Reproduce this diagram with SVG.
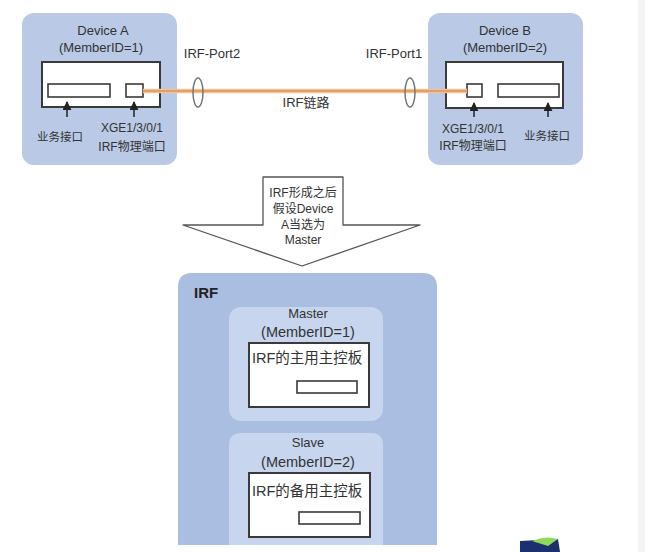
<svg xmlns="http://www.w3.org/2000/svg" width="645" height="552" viewBox="0 0 645 552">
<defs>
<marker id="ah" viewBox="0 0 10 10" refX="9" refY="5" markerWidth="6" markerHeight="6" orient="auto">
<path d="M0,0 L10,5 L0,10 z" fill="#222"/>
</marker>
<style>
text{font-family:"Liberation Sans","Noto Sans CJK SC",sans-serif;fill:#333;}
.dev{fill:#b9c9e6;}
.mem{fill:#c7d5ee;}
.inner{fill:#fff;stroke:#3a3a3a;stroke-width:2;}
.port{fill:#fff;stroke:#3a3a3a;stroke-width:1.6;}
.t13{font-size:13px;text-anchor:middle;}
.t12{font-size:12px;text-anchor:middle;}
.t11{font-size:11.5px;text-anchor:middle;}
.t14{font-size:14.5px;text-anchor:middle;}
.ring{fill:none;stroke:#777;stroke-width:1.5;}
.pin{stroke:#222;stroke-width:1.5;fill:none;}
</style>
</defs>
<rect x="0" y="0" width="645" height="552" fill="#fff"/>
<rect x="638" y="0" width="7" height="552" fill="#f4f4f4"/>

<g id="deviceA">
<rect class="dev" x="22" y="13" width="155" height="152" rx="12"/>
<text class="t13" x="103" y="35">Device A</text>
<text class="t13" x="101" y="52">(MemberID=1)</text>
<rect class="inner" x="42" y="62" width="118" height="45"/>
<rect class="port" x="48" y="84" width="62" height="13"/>
<rect class="port" x="126" y="84" width="17" height="13"/>
<text class="t11" x="60" y="141">业务接口</text>
<text class="t12" x="132" y="132">XGE1/3/0/1</text>
<text class="t12" x="132" y="151">IRF物理端口</text>
</g>

<g id="deviceB">
<rect class="dev" x="428" y="13" width="155" height="152" rx="12"/>
<text class="t13" x="505" y="35">Device B</text>
<text class="t13" x="505" y="52">(MemberID=2)</text>
<rect class="inner" x="446" y="62" width="117" height="46"/>
<rect class="port" x="467" y="84" width="15" height="13"/>
<rect class="port" x="498" y="84" width="61" height="13"/>
<text class="t12" x="473" y="133">XGE1/3/0/1</text>
<text class="t12" x="473" y="150">IRF物理端口</text>
<text class="t11" x="547" y="140">业务接口</text>
</g>

<g id="connectors">
<line x1="143" y1="91" x2="467" y2="91" stroke="#f5c193" stroke-width="4.5"/>
<line x1="143" y1="91" x2="467" y2="91" stroke="#c98048" stroke-width="1.2"/>
<ellipse class="ring" cx="198" cy="92.5" rx="5" ry="14.5"/>
<ellipse class="ring" cx="410" cy="92.5" rx="5" ry="14.5"/>
<line class="pin" x1="67" y1="117" x2="67" y2="102" marker-end="url(#ah)"/>
<line class="pin" x1="134" y1="117" x2="134" y2="102" marker-end="url(#ah)"/>
<line class="pin" x1="474" y1="117" x2="474" y2="103" marker-end="url(#ah)"/>
<line class="pin" x1="548" y1="117" x2="548" y2="103" marker-end="url(#ah)"/>
</g>

<g id="linklabels">
<text class="t13" x="212" y="58">IRF-Port2</text>
<text class="t13" x="394" y="58">IRF-Port1</text>
<text class="t13" x="306" y="107">IRF链路</text>
</g>

<g id="bigArrow">
<path d="M263,177 L343,177 L343,225 L420,225 L302,266 L183,225 L263,225 Z" fill="#fff" stroke="#555" stroke-width="1.3" stroke-linejoin="round"/>
<text class="t12" x="303" y="197">IRF形成之后</text>
<text class="t12" x="303" y="213">假设Device</text>
<text class="t12" x="303" y="229">A当选为</text>
<text class="t12" x="303" y="244">Master</text>
</g>

<g id="irf">
<path d="M178,545 L178,287 Q178,273 192,273 L423,273 Q437,273 437,287 L437,545 Z" fill="#aabee1"/>
<text x="194" y="298" style="font-size:15px;font-weight:bold;fill:#222">IRF</text>
</g>

<g id="master">
<rect class="mem" x="229" y="307" width="154" height="114" rx="12"/>
<text class="t13" x="308" y="318">Master</text>
<text class="t14" x="308" y="337">(MemberID=1)</text>
<rect class="inner" x="249" y="343" width="120" height="64"/>
<text x="252" y="363" style="font-size:14.5px">IRF的主用主控板</text>
<rect class="port" x="297" y="381" width="60" height="12"/>
</g>

<g id="slave">
<path d="M229,545 L229,445 Q229,433 241,433 L371,433 Q383,433 383,445 L383,545 Z" class="mem"/>
<text class="t13" x="308" y="447">Slave</text>
<text class="t14" x="308" y="467">(MemberID=2)</text>
<rect class="inner" x="249" y="473" width="121" height="64"/>
<text x="252" y="496" style="font-size:14.5px">IRF的备用主控板</text>
<rect class="port" x="299" y="512" width="61" height="12"/>
</g>

<g id="logo">
<path d="M520,541 L558,539 L560,552 L520,552 Z" fill="#1c2f6e"/>
<path d="M532,541 Q545,535 558,539 L548,546 Z" fill="#8fd85a"/>
</g>
</svg>
